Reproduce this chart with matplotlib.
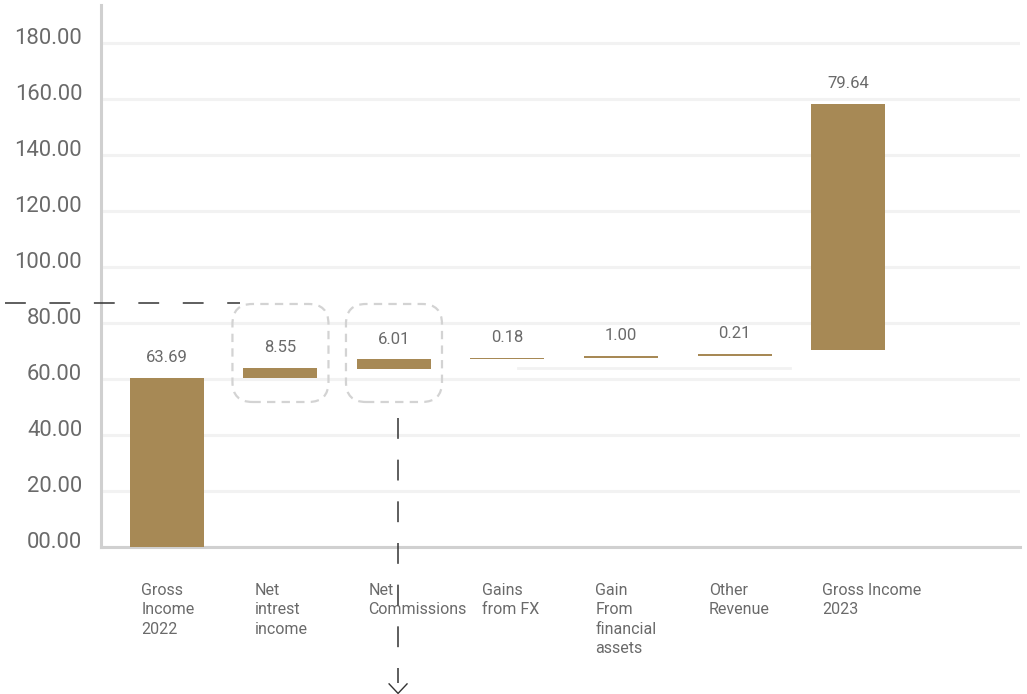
import matplotlib
matplotlib.use('Agg')
import matplotlib.pyplot as plt
from matplotlib.patches import FancyBboxPatch
from matplotlib.ticker import FuncFormatter
import matplotlib.transforms as mtransforms

plt.rcParams['font.family'] = ['Roboto', 'DejaVu Sans']
plt.rcParams['lines.scale_dashes'] = False

# Datos del grafico (cascada)
categorias = ['Gross\nIncome\n2022', 'Net\nintrest\nincome', 'Net\nCommissions',
              'Gains\nfrom FX', 'Gain\nFrom\nfinancial\nassets', 'Other\nRevenue',
              'Gross Income\n2023']
bases = [0.0, 60.4, 63.6, 67.0, 67.6, 68.3, 70.4]
alturas = [60.4, 3.5, 3.5, 0.6, 0.6, 0.6, 87.8]
etiquetas = ['63.69', '8.55', '6.01', '0.18', '1.00', '0.21', '79.64']
ticks_y = [0, 20, 40, 60, 80, 100, 120, 140, 160, 180]

color_barra = '#a78955'
color_texto = '#6a6a6a'

fig = plt.figure(figsize=(10.27, 6.94), dpi=100)
ax = fig.add_axes([101 / 1027, (694 - 547) / 694, 919 / 1027, 542 / 694])

x = list(range(len(categorias)))
ancho = 0.652
ax.bar(x, alturas, bottom=bases, width=ancho, color=color_barra, zorder=3)

# Etiquetas de valor encima de cada barra
for i in x:
    ax.annotate(etiquetas[i], (i, bases[i] + alturas[i]), xytext=(0, 14.5),
                textcoords='offset points', ha='center', va='center',
                fontsize=12, color=color_texto)

# Ejes
ax.set_xlim(-0.581, 7.515)
ax.set_ylim(0, 193.6)
ax.set_yticks(ticks_y)
ax.yaxis.set_major_formatter(FuncFormatter(lambda v, p: f'{v:05.2f}'))
ax.tick_params(axis='y', length=0, pad=13.5, labelsize=15.8, labelcolor=color_texto)
ax.set_xticks([])
for lbl in ax.get_yticklabels():
    lbl.set_transform(lbl.get_transform() + mtransforms.ScaledTranslation(0, 7 / 100, fig.dpi_scale_trans))

ax.grid(axis='y', color='#f2f2f2', linewidth=2.2, zorder=0)
for s in ['top', 'right']:
    ax.spines[s].set_visible(False)
for s in ['left', 'bottom']:
    ax.spines[s].set_color('#d0d0d0')
    ax.spines[s].set_linewidth(2.2)

# Etiquetas de categoria
trans = mtransforms.blended_transform_factory(ax.transData, ax.transAxes)
for i in x:
    ax.text(i - ancho / 2 + 0.1, -0.066, categorias[i], transform=trans,
            ha='left', va='top', fontsize=11.5, color=color_texto, linespacing=1.38)

# Linea tenue
ax.plot([3.09, 5.49], [63.9, 63.9], color='#f2f2f2', linewidth=2, zorder=1)

# Cajas punteadas redondeadas
for i in [1, 2]:
    caja = FancyBboxPatch((i - 0.423, 51.8), 0.846, 35.0,
                          boxstyle='round,pad=0,rounding_size=0.176',
                          mutation_aspect=40.5, fill=False, edgecolor='#d3d3d3',
                          linewidth=1.6, linestyle=(0, (6, 4.5)), zorder=2)
    ax.add_patch(caja)

# Linea punteada horizontal
ax.plot([-1.427, 0.644], [87.1, 87.1], color='#333333', linewidth=1.1,
        dashes=(15, 17), clip_on=False, zorder=4)

# Linea punteada vertical con flecha
ax.plot([2.036, 2.036], [46, -48.5], color='#333333', linewidth=1.1,
        dashes=(15, 15), clip_on=False, zorder=4)
ax.plot([2.036 - 0.079, 2.036, 2.036 + 0.079], [-48.9, -52.3, -48.9],
        color='#333333', linewidth=1.0, clip_on=False, zorder=4)

fig.savefig('out.png', dpi=100)
